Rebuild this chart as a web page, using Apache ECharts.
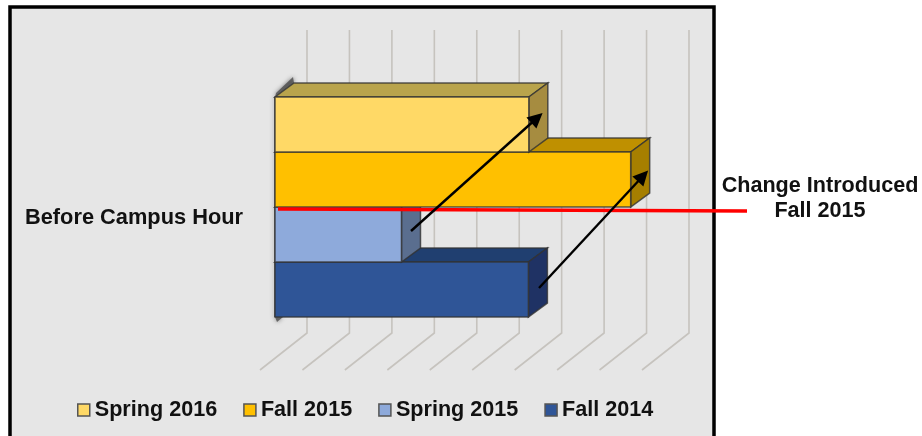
<!DOCTYPE html>
<html>
<head>
<meta charset="utf-8">
<title>Before Campus Hour</title>
<style>html,body{margin:0;padding:0;background:#fff}#ChartMain{width:922px;height:436px}</style>
<script src="https://cdn.jsdelivr.net/npm/echarts@6/dist/echarts.min.js"></script>
</head>
<body>
<div id="ChartMain"></div>
<script>
var categories = ['Before Campus Hour'];
var seriesNames = ['Fall 2014', 'Spring 2015', 'Fall 2015', 'Spring 2016']; // bottom to top
var legendNames = ['Spring 2016', 'Fall 2015', 'Spring 2015', 'Fall 2014'];
var seriesValues = [5.97, 2.98, 8.38, 5.98];
var frontColors = ['#2F5597', '#8EAADB', '#FFC000', '#FFD966'];
var topColors = ['#203F70', '#6A80A4', '#BF9000', '#B9A44C'];
var sideColors = ['#1F3264', '#5A6E8F', '#A67F00', '#A68C40'];
var gridTicks = [0, 1, 2, 3, 4, 5, 6, 7, 8, 9];

var depthX = 19, depthY = 14;
var edge = 'rgba(50,50,50,0.8)';
var FONT = '"Liberation Sans", Arial, sans-serif';

// soft shadow behind a bar's left end
function blurShape(points) {
    return {
        type: 'polygon',
        shape: {points: points},
        style: {fill: 'rgba(70,70,70,0.75)', shadowBlur: 4, shadowColor: 'rgba(50,50,50,0.8)'}
    };
}

// one 3D bar: front, top and side faces
function renderBar(params, api) {
    var slot = params.seriesIndex - 1;
    var start = api.coord([0, 0]);
    var end = api.coord([api.value(0), 0]);
    var band = api.size([0, 1])[1];
    var h = band / seriesNames.length;
    var y1 = start[1] + band / 2 - h * (slot + 1);
    var y2 = y1 + h;
    var x1 = start[0], x2 = end[0];
    function face(points, fill) {
        return {
            type: 'polygon',
            shape: {points: points},
            style: {fill: fill, stroke: edge, lineWidth: 1.5}
        };
    }
    var children = [blurShape([[x1 - 1, y1], [x1, y1], [x1, y2], [x1 - 1, y2]])];
    if (slot === seriesNames.length - 1) {
        children.push(blurShape([[x1, y1], [x1 + depthX, y1 - depthY], [x1 + depthX - 1, y1 - depthY - 6], [x1 + 1, y1 - 4]]));
    }
    if (slot === 0) {
        children.push(blurShape([[x1, y2], [x1 + 8, y2], [x1 + 2, y2 + 5]]));
    }
    children.push(
        face([[x1, y1], [x1 + depthX, y1 - depthY], [x2 + depthX, y1 - depthY], [x2, y1]], topColors[slot]),
        face([[x2, y1], [x2 + depthX, y1 - depthY], [x2 + depthX, y2 - depthY], [x2, y2]], sideColors[slot]),
        face([[x1, y1], [x2, y1], [x2, y2], [x1, y2]], frontColors[slot])
    );
    return {type: 'group', children: children};
}

// wall line plus the diagonal on the floor
function renderGridLine(params, api) {
    var p = api.coord([api.value(0), 0]);
    var x = p[0] + 32;
    return {
        type: 'polyline',
        shape: {points: [[x, 30], [x, 333], [x - 47, 370]]},
        style: {fill: null, stroke: '#C6C3BE', lineWidth: 1.6}
    };
}

var series = [{
    type: 'custom',
    name: 'grid',
    renderItem: renderGridLine,
    encode: {x: 0, y: 1},
    silent: true,
    data: gridTicks.map(function (t) { return [t, 0]; })
}];
seriesNames.forEach(function (name, i) {
    series.push({
        type: 'custom',
        name: name,
        renderItem: renderBar,
        encode: {x: 0, y: 1},
        itemStyle: {color: frontColors[i]},
        data: [[seriesValues[i], 0]]
    });
});
// arrows and the change marker go on top of the bars
series.push({
    type: 'line',
    name: 'notes',
    data: [],
    z: 10,
    markLine: {
        silent: true,
        animation: false,
        label: {show: false},
        emphasis: {disabled: true},
        symbol: ['none', 'none'],
        data: [
            [{x: 278, y: 209, lineStyle: {color: '#FF0000', width: 3.5, type: 'solid'}}, {x: 747, y: 211}],
            [{x: 411, y: 231, symbol: 'none', lineStyle: {color: '#000', width: 2.4, type: 'solid'}}, {x: 537, y: 118, symbol: 'triangle', symbolSize: 15}],
            [{x: 539, y: 288, symbol: 'none', lineStyle: {color: '#000', width: 2.4, type: 'solid'}}, {x: 643, y: 176, symbol: 'triangle', symbolSize: 15}]
        ]
    }
});

var ImgChart = echarts.init(document.getElementById('ChartMain'));
ImgChart.setOption({
    animation: false,
    textStyle: {fontFamily: FONT},
    grid: {left: 275, top: 97, width: 382, height: 220},
    xAxis: {type: 'value', min: 0, max: 9, interval: 1, show: false},
    yAxis: {
        type: 'category',
        data: categories,
        axisLine: {show: false},
        axisTick: {show: false},
        axisLabel: {
            margin: 32,
            color: '#111',
            fontFamily: FONT,
            fontWeight: 'bold',
            fontSize: 21.8,
            verticalAlign: 'top'
        }
    },
    legend: {
        data: legendNames,
        left: 72,
        top: 394,
        icon: 'rect',
        itemWidth: 12,
        itemHeight: 12,
        itemGap: 26,
        selectedMode: false,
        itemStyle: {borderColor: '#555', borderWidth: 1.5},
        textStyle: {color: '#111', fontFamily: FONT, fontWeight: 'bold', fontSize: 21.6}
    },
    graphic: [
        {
            type: 'rect',
            z: -10,
            silent: true,
            shape: {x: 10, y: 7, width: 704, height: 450},
            style: {fill: '#E6E6E6', stroke: '#000', lineWidth: 3.5}
        },
        {
            type: 'text',
            z: 20,
            silent: true,
            x: 820,
            y: 199,
            style: {
                text: 'Change Introduced\nFall 2015',
                fill: '#111',
                font: 'bold 21.6px ' + FONT,
                lineHeight: 25,
                align: 'center',
                verticalAlign: 'middle'
            }
        }
    ],
    series: series
});
</script>
</body>
</html>
